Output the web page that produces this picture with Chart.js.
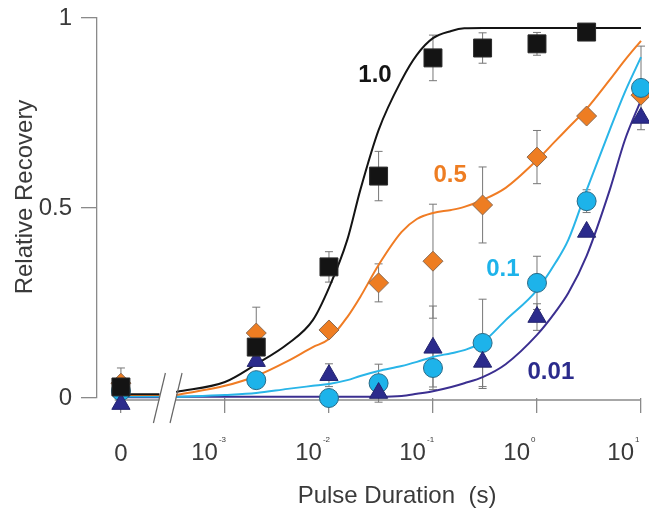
<!DOCTYPE html>
<html>
<head>
<meta charset="utf-8">
<script src="https://cdn.jsdelivr.net/npm/chart.js@4.4.1/dist/chart.umd.min.js"></script>
<style>
  html, body { margin: 0; padding: 0; background: #fff; }
  #wrap { width: 649px; height: 515px; }
</style>
</head>
<body>
<div id="wrap"><canvas id="chart" width="649" height="515"></canvas></div>
<script>
// pulse durations (s) of the measured points; 0 sits left of the axis break
const durations = [0, 0.002, 0.01, 0.03, 0.1, 0.3, 1, 3, 10];

// relative recovery and error, one pair of arrays per concentration
const rec10 = [0.029, 0.134, 0.345, 0.584, 0.895, 0.921, 0.932, 0.963, null];
const err10 = [0, 0, 0.04, 0.065, 0.06, 0.04, 0.03, 0, 0];
const rec05 = [0.039, 0.171, 0.179, 0.303, 0.36, 0.508, 0.634, 0.742, 0.797];
const err05 = [0.04, 0.068, 0, 0.05, 0.15, 0.1, 0.07, 0, 0];
const rec01 = [0.018, 0.047, 0, 0.039, 0.079, 0.145, 0.303, 0.518, 0.816];
const err01 = [0, 0, 0, 0.05, 0.05, 0.115, 0.07, 0.03, 0.11];
const rec001 = [-0.016, 0.097, 0.06, 0.013, 0.132, 0.095, 0.213, 0.437, 0.737];
const err001 = [0, 0, 0.03, 0, 0.11, 0.07, 0.035, 0, 0];

// fitted curves at these durations
const fitDurations = [0.00034, 0.001, 0.002, 0.004, 0.007, 0.01, 0.015, 0.02, 0.03, 0.05, 0.07, 0.1, 0.15, 0.2, 0.3, 0.5, 1, 1.5, 2, 3, 5, 7, 10];
const fit10 = [0.016, 0.042, 0.089, 0.142, 0.205, 0.29, 0.416, 0.547, 0.705, 0.837, 0.903, 0.947, 0.966, 0.973, 0.974, 0.974, 0.974, 0.974, 0.974, 0.974, 0.974, 0.974, 0.974];
const fit05 = [0.008, 0.032, 0.058, 0.097, 0.134, 0.155, 0.213, 0.266, 0.35, 0.437, 0.471, 0.487, 0.495, 0.503, 0.521, 0.553, 0.626, 0.676, 0.711, 0.761, 0.837, 0.889, 0.94];
const fit01 = [0.003, 0.008, 0.013, 0.024, 0.032, 0.037, 0.047, 0.058, 0.071, 0.084, 0.095, 0.108, 0.118, 0.126, 0.147, 0.205, 0.284, 0.355, 0.416, 0.547, 0.705, 0.805, 0.897];
const fit001 = [0.003, 0.003, 0.003, 0.003, 0.003, 0.003, 0.003, 0.003, 0.003, 0.005, 0.011, 0.018, 0.029, 0.039, 0.055, 0.089, 0.166, 0.226, 0.276, 0.374, 0.547, 0.679, 0.784];
// level of each curve between 0 and the axis break
const baseLevels = [0.01, 0.008, 0.004, 0.002];

const seriesNames = ['1.0', '0.5', '0.1', '0.01'];
const xTickDurations = [0, 0.001, 0.01, 0.1, 1, 10];
const xTickExponents = ['', '-3', '-2', '-1', '0', '1'];
const yTicks = [0, 0.5, 1];
const yTickLabels = ['0', '0.5', '1'];

// where 0 and the break sit on the log axis
const ZERO_POS = -4;
const BREAK_LEFT = -3.63;
const BREAK_RIGHT = -3.47;
const pos = d => d === 0 ? ZERO_POS : Math.log10(d);

const FONT = "'Liberation Sans', Arial, sans-serif";
const AXIS = '#8a8a8a';
const TEXT = '#3a3a3a';

const series = [
  { rec: rec10, err: err10, fit: fit10, shape: 'rect', r: 12.7, fill: '#141414', edge: '#2a2a2a', line: '#141414', label: [0.0277, 0.85], order: 0 },
  { rec: rec05, err: err05, fit: fit05, shape: 'rectRot', r: 10, fill: '#ee7d22', edge: '#8c6b52', line: '#f07c24', label: [0.146, 0.587], order: 3 },
  { rec: rec01, err: err01, fit: fit01, shape: 'circle', r: 9.5, fill: '#1db3ea', edge: '#2a6a86', line: '#29b5e8', label: [0.47, 0.339], order: 2 },
  { rec: rec001, err: err001, fit: fit001, shape: 'triangle', r: 10.5, fill: '#2b2b8c', edge: '#23236e', line: '#3b2f90', label: [1.36, 0.068], order: 1 }
];

const datasets = [];
series.forEach((s, k) => {
  datasets.push({
    type: 'scatter',
    data: durations.map((d, i) => ({ x: pos(d), y: s.rec[i] })).filter(p => p.y !== null),
    pointStyle: s.shape,
    pointRadius: s.r,
    backgroundColor: s.fill,
    borderColor: s.edge,
    borderWidth: 1,
    order: s.order,
    clip: false
  });
  datasets.push({
    type: 'line',
    data: fitDurations.map((d, i) => ({ x: pos(d), y: s.fit[i] })),
    borderColor: s.line,
    borderWidth: 2,
    pointRadius: 0,
    cubicInterpolationMode: 'monotone',
    order: 10 + k,
    clip: false
  });
  datasets.push({
    type: 'line',
    data: [{ x: ZERO_POS, y: baseLevels[k] }, { x: BREAK_LEFT, y: baseLevels[k] }],
    borderColor: s.line,
    borderWidth: 2,
    pointRadius: 0,
    order: 10 + k,
    clip: false
  });
});

function seg(ctx, x1, y1, x2, y2) {
  ctx.beginPath();
  ctx.moveTo(x1, y1);
  ctx.lineTo(x2, y2);
  ctx.stroke();
}

const decor = {
  id: 'decor',
  beforeDatasetsDraw(chart) {
    const { ctx, scales: { x, y } } = chart;
    ctx.save();
    ctx.strokeStyle = AXIS;
    ctx.lineWidth = 1.3;
    // broken x axis
    const ya = y.getPixelForValue(0) + 2;
    seg(ctx, x.getPixelForValue(-4.06), ya, x.getPixelForValue(BREAK_LEFT), ya);
    seg(ctx, x.getPixelForValue(BREAK_RIGHT), ya, x.getPixelForValue(1), ya);

    // error bars
    ctx.strokeStyle = '#777';
    ctx.lineWidth = 1;
    series.forEach(s => {
      durations.forEach((d, i) => {
        if (s.rec[i] === null || !s.err[i]) return;
        const px = x.getPixelForValue(pos(d));
        const top = y.getPixelForValue(s.rec[i] + s.err[i]);
        const bot = y.getPixelForValue(s.rec[i] - s.err[i]);
        seg(ctx, px, top, px, bot);
        seg(ctx, px - 4, top, px + 4, top);
        seg(ctx, px - 4, bot, px + 4, bot);
      });
    });
    ctx.restore();
  },
  afterDatasetsDraw(chart) {
    const { ctx, scales: { x, y } } = chart;
    ctx.save();
    const ya = y.getPixelForValue(0) + 2;

    // break marks
    ctx.strokeStyle = '#666';
    ctx.lineWidth = 1.2;
    [BREAK_LEFT, BREAK_RIGHT].forEach(b => {
      const bx = x.getPixelForValue(b);
      seg(ctx, bx - 6, ya + 23, bx + 6, ya - 27);
    });

    // x tick labels with small exponents
    ctx.fillStyle = TEXT;
    ctx.textBaseline = 'middle';
    xTickDurations.forEach((d, i) => {
      const px = x.getPixelForValue(pos(d));
      if (d === 0) {
        ctx.font = '24px ' + FONT;
        ctx.textAlign = 'center';
        ctx.fillText('0', px, 454);
        return;
      }
      ctx.font = '24px ' + FONT;
      ctx.textAlign = 'right';
      ctx.fillText('10', px - 7, 453);
      ctx.font = '8px ' + FONT;
      ctx.textAlign = 'left';
      ctx.fillText(xTickExponents[i], px - 6, 440);
    });

    // axis titles
    ctx.font = '24px ' + FONT;
    ctx.textAlign = 'center';
    ctx.fillText('Pulse Duration  (s)', 397, 496);
    ctx.save();
    ctx.translate(25, 197);
    ctx.rotate(-Math.PI / 2);
    ctx.fillText('Relative Recovery', 0, 0);
    ctx.restore();

    // series labels
    ctx.font = 'bold 24px ' + FONT;
    series.forEach((s, k) => {
      ctx.fillStyle = s.fill;
      ctx.fillText(seriesNames[k], x.getPixelForValue(pos(s.label[0])), y.getPixelForValue(s.label[1]));
    });
    ctx.restore();
  }
};

new Chart(document.getElementById('chart'), {
  data: { datasets },
  options: {
    responsive: false,
    animation: false,
    events: [],
    layout: { autoPadding: false, padding: { top: 18, right: 8, left: 0, bottom: 0 } },
    plugins: { legend: { display: false }, tooltip: { enabled: false } },
    scales: {
      x: {
        type: 'linear',
        min: -4.23,
        max: 1,
        afterFit: s => { s.height = 117; s.paddingLeft = 0; s.paddingRight = 0; },
        afterBuildTicks: s => { s.ticks = xTickDurations.map(d => ({ value: pos(d) })); },
        ticks: { display: false },
        border: { display: false },
        grid: { drawOnChartArea: false, drawTicks: true, tickLength: 15, color: AXIS, lineWidth: 1.3 }
      },
      y: {
        type: 'linear',
        min: 0,
        max: 1,
        afterFit: s => { s.width = 97; s.paddingTop = 0; s.paddingBottom = 0; },
        afterBuildTicks: s => { s.ticks = yTicks.map(v => ({ value: v })); },
        ticks: {
          font: { family: FONT, size: 24 }, color: TEXT, padding: 9,
          callback: (v, i) => yTickLabels[i]
        },
        border: { display: true, color: AXIS, width: 1.3 },
        grid: { drawOnChartArea: false, drawTicks: true, tickLength: 16, color: AXIS, lineWidth: 1.3 }
      }
    }
  },
  plugins: [decor]
});
</script>
</body>
</html>
